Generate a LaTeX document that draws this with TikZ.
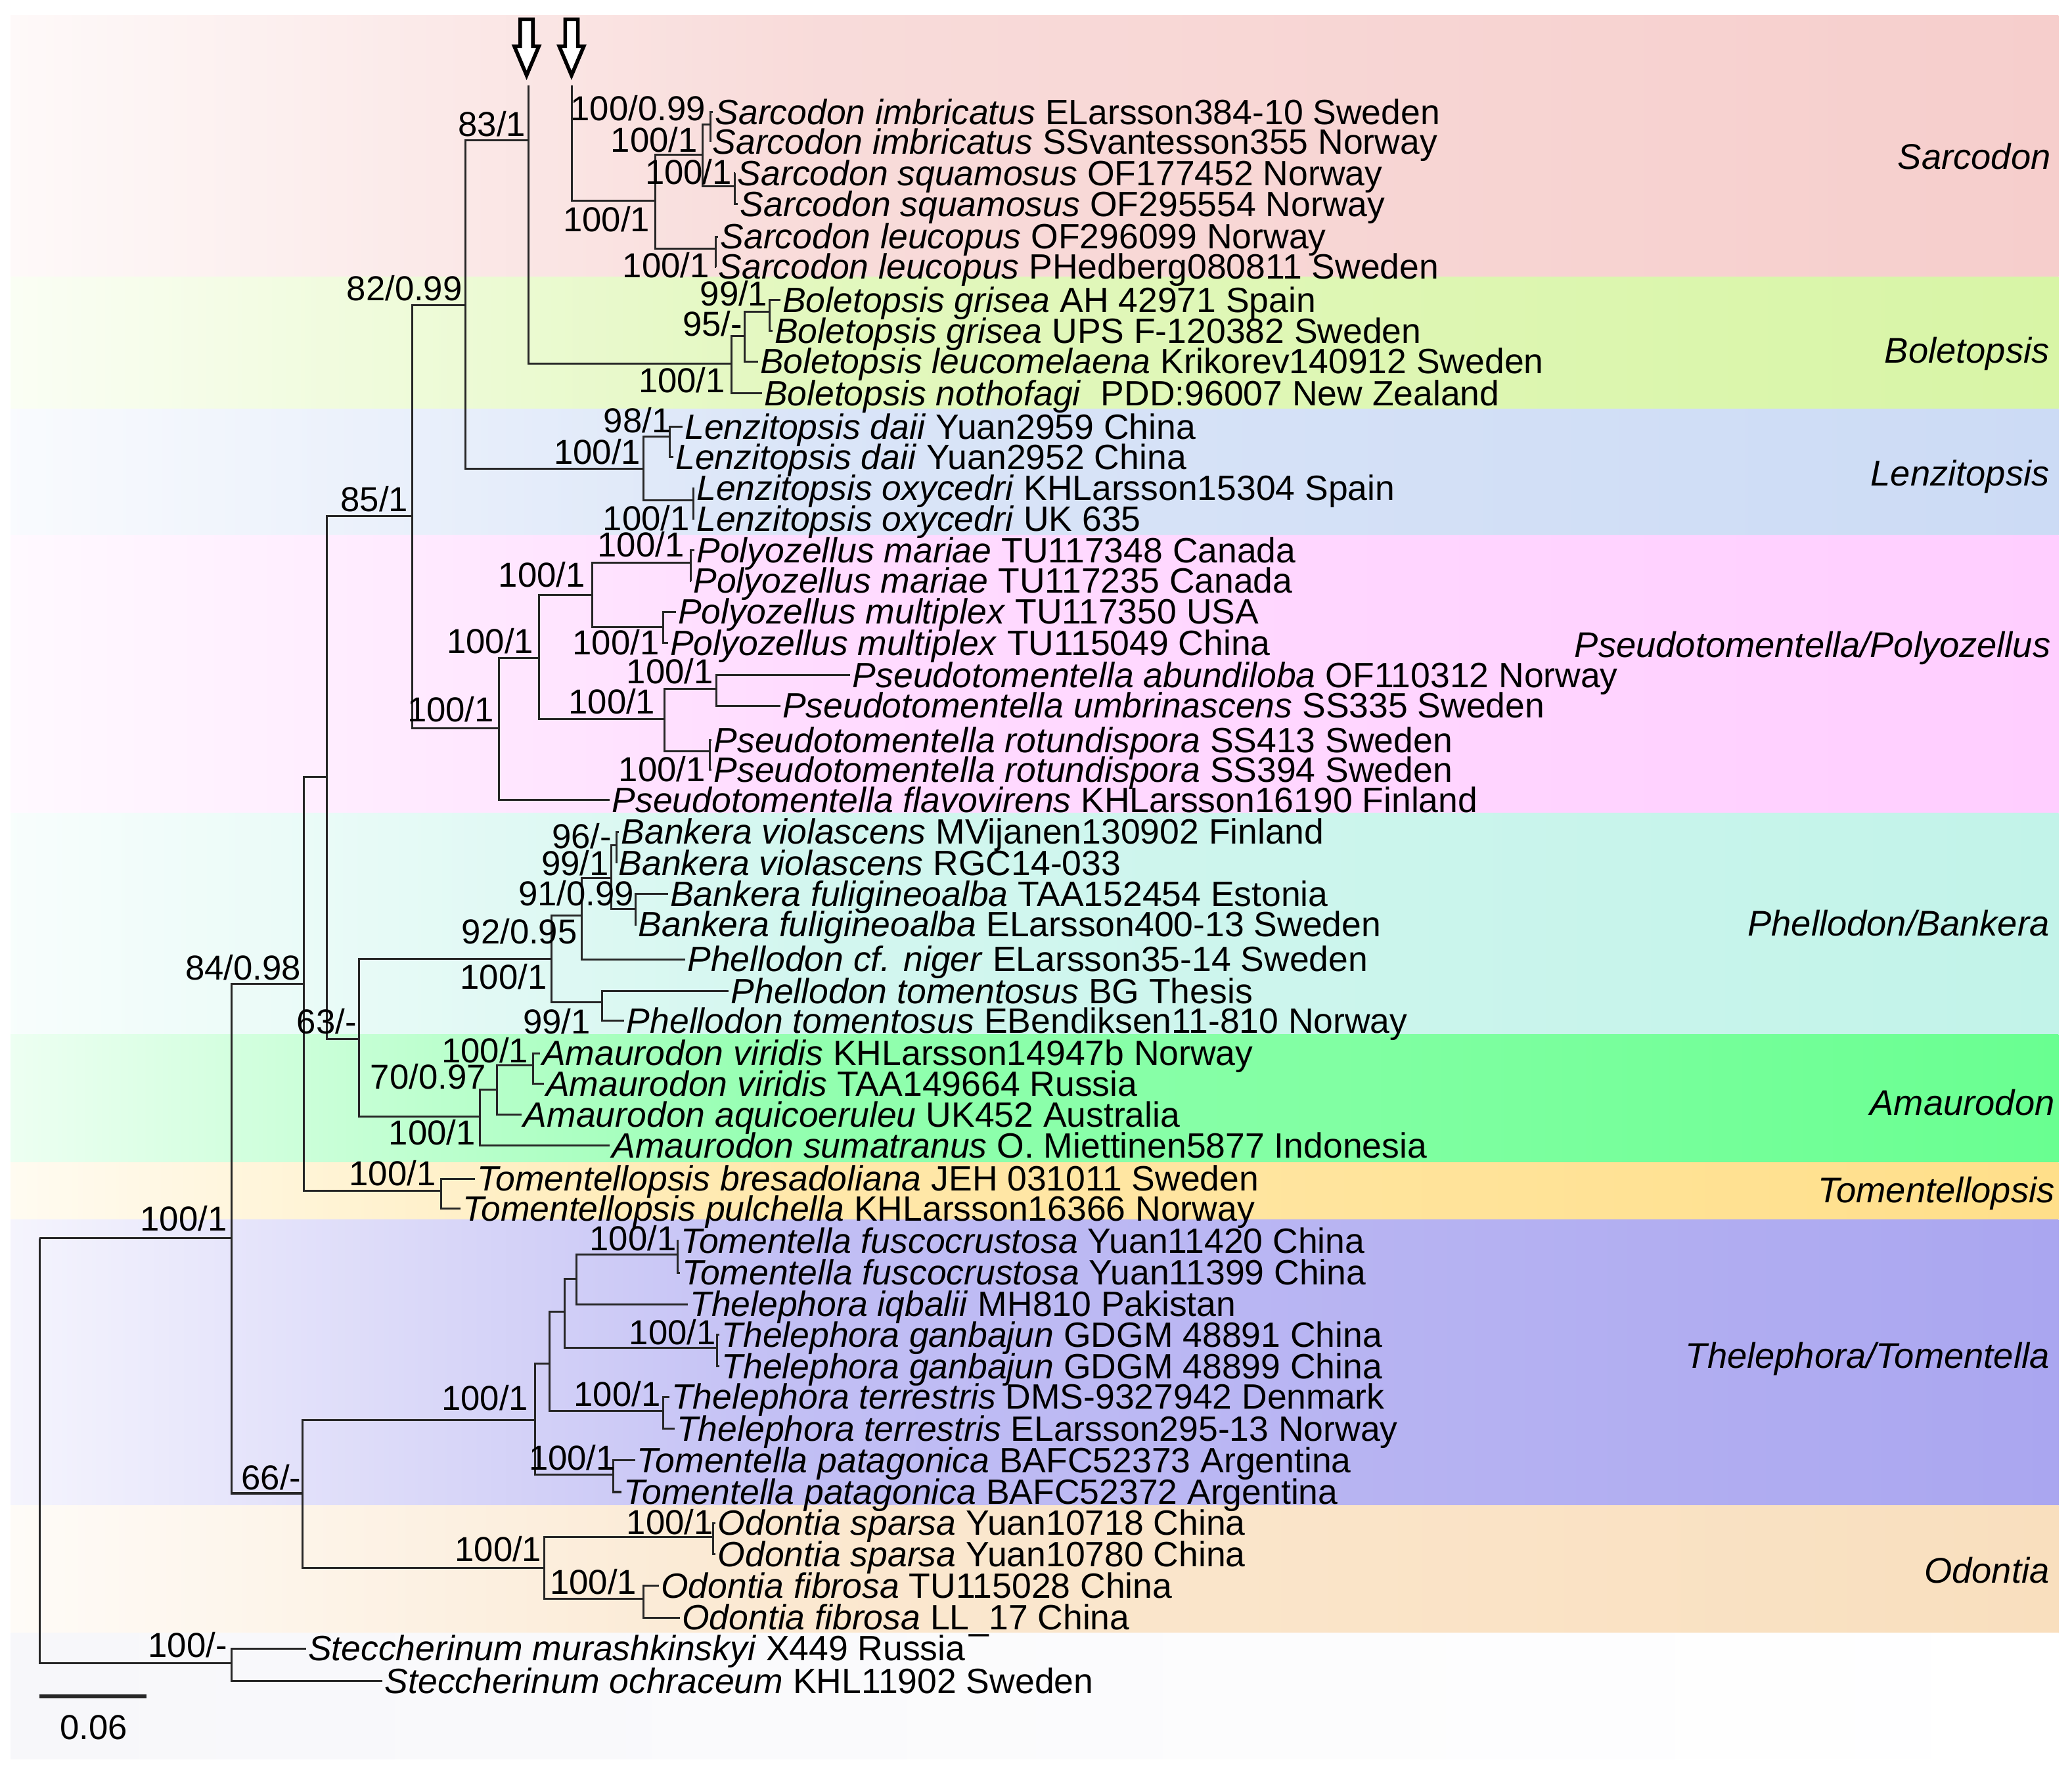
\documentclass[tikz,border=0pt]{standalone}
\usepackage{fontspec}
\setmainfont{Liberation Sans}
\usetikzlibrary{calc}
\definecolor{bgC}{RGB}{247,247,250}
\definecolor{sarcC}{RGB}{246,206,204}
\definecolor{bolC}{RGB}{216,245,166}
\definecolor{lenC}{RGB}{204,219,245}
\definecolor{pseC}{RGB}{255,206,255}
\definecolor{pheC}{RGB}{194,243,233}
\definecolor{amaC}{RGB}{105,255,145}
\definecolor{tomC}{RGB}{255,223,138}
\definecolor{theC}{RGB}{170,166,240}
\definecolor{odoC}{RGB}{249,223,190}
\newcommand{\cladeband}[3]{%
 \shade[left color=#1!12!white, right color=#1!72!white] (8,#2) rectangle (600,#3);
 \shade[left color=#1!72!white, right color=#1] (600,#2) rectangle (1557.7,#3);}
\newcommand{\mkleaf}[5]{\node[leaf] (#1) at ({#2-1.5},#3) {\textit{#4} #5};}
\newcommand{\brn}[2]{\draw[br] (#1) |- (#2);}
\newcommand{\sv}[4]{\node[sup] (#1) at (#2,#3) {#4};}
\begin{document}
\begin{tikzpicture}[x=1pt,y=-1pt,
  br/.style={line width=1.5pt, draw=black!85},
  leaf/.style={anchor=west, inner xsep=1.5pt, inner ysep=0pt, text height=18.5pt, text depth=0pt, font=\fontsize{26.6}{28}\selectfont},
  sup/.style={anchor=east, inner sep=0pt, text height=18.5pt, text depth=0pt, font=\fontsize{26.2}{28}\selectfont},
  clade/.style={anchor=east, inner sep=0pt, text height=19pt, text depth=0pt, font=\fontsize{27}{29}\selectfont\itshape},
  arrowshape/.style={line width=2.8pt, draw=black, fill=white, line join=miter}
]
\useasboundingbox (0,0) rectangle (1568,1336);
% background and bands
\fill[bgC] (8,11.6) rectangle (1557.7,1331);
\cladeband{sarcC}{11.6}{209.7}
\cladeband{bolC}{209.7}{309.6}
\cladeband{lenC}{309.6}{405}
\cladeband{pseC}{405}{615.4}
\cladeband{pheC}{615.4}{782.9}
\cladeband{amaC}{782.9}{879.6}
\cladeband{tomC}{879.6}{923}
\cladeband{theC}{923}{1139}
\cladeband{odoC}{1139}{1235.7}
\shade[left color=bgC, right color=white] (8,1235.7) rectangle (1557.7,1331);

% clade labels
\node[clade] (cSar) at (1552,118.5) {Sarcodon};
\node[clade] (cBol) at (1551,265) {Boletopsis};
\node[clade] (cLen) at (1551,358) {Lenzitopsis};
\node[clade] (cPse) at (1552,488) {Pseudotomentella/Polyozellus};
\node[clade] (cPhe) at (1551,698.5) {Phellodon/Bankera};
\node[clade] (cAma) at (1555,834.5) {Amaurodon};
\node[clade] (cTom) at (1555,900.5) {Tomentellopsis};
\node[clade] (cThe) at (1551,1026) {Thelephora/Tomentella};
\node[clade] (cOdo) at (1551,1188.5) {Odontia};

% internal nodes
\coordinate (R) at (30,937);
\coordinate (B) at (175.3,937);
\coordinate (C) at (229.8,744.5);
\coordinate (D) at (228.8,1130);
\coordinate (E) at (247.5,588);
\coordinate (Tp) at (334,901.3);
\coordinate (F) at (312,390.5);
\coordinate (G) at (271.8,786);
\coordinate (H) at (352,231);
\coordinate (I) at (377.6,551);
\coordinate (J) at (400,106);
\coordinate (Jt) at (400,64.7);
\coordinate (Lz) at (487,354.6);
\coordinate (Sc) at (433,152);
\coordinate (Sct) at (433,64.7);
\coordinate (S1) at (496,152);
\coordinate (S2) at (531.6,117);
\coordinate (S3) at (537.5,94);
\coordinate (S4) at (556,141);
\coordinate (S5) at (541.5,188);
\coordinate (Bo) at (553.5,275);
\coordinate (Bo2) at (563.5,254.4);
\coordinate (Bo3) at (582.4,236);
\coordinate (Lz2) at (507,330.3);
\coordinate (Lz3) at (524.7,378.7);
\coordinate (K) at (407.7,498);
\coordinate (Ly) at (448.3,450.4);
\coordinate (Pm) at (522.7,425.9);
\coordinate (Px) at (501.8,474.3);
\coordinate (M) at (503,544);
\coordinate (Pa) at (542.2,521.2);
\coordinate (Pr) at (537.4,568.4);
\coordinate (Ph) at (417.2,725.8);
\coordinate (P91) at (440.3,692.7);
\coordinate (P99) at (462.8,664.5);
\coordinate (P96) at (466.5,639.6);
\coordinate (Bf) at (481,687.7);
\coordinate (Pt) at (455.4,758.6);
\coordinate (Am) at (363,845);
\coordinate (Am2) at (376,824.4);
\coordinate (Av) at (403.4,806);
\coordinate (T1) at (405,1074.6);
\coordinate (T2) at (416,1031.6);
\coordinate (T3) at (427.2,992.6);
\coordinate (T4) at (436,967.8);
\coordinate (Tfu) at (513,949.5);
\coordinate (Tga) at (542.4,1020);
\coordinate (Tte) at (502,1067.7);
\coordinate (Tpa) at (464.3,1115.7);
\coordinate (O1) at (412,1186.5);
\coordinate (Os) at (539.8,1163.3);
\coordinate (Of) at (487,1209.7);
\coordinate (St) at (175.3,1258.6);

% leaves
\mkleaf{L1}{541}{85}{Sarcodon imbricatus}{ELarsson384-10 Sweden}
\mkleaf{L2}{539}{107.5}{Sarcodon imbricatus}{SSvantesson355 Norway}
\mkleaf{L3}{558}{131}{Sarcodon squamosus}{OF177452 Norway}
\mkleaf{L4}{560}{154.5}{Sarcodon squamosus}{OF295554 Norway}
\mkleaf{L5}{545}{179}{Sarcodon leucopus}{OF296099 Norway}
\mkleaf{L6}{543.5}{202}{Sarcodon leucopus}{PHedberg080811 Sweden}
\mkleaf{L7}{592}{227}{Boletopsis grisea}{AH 42971 Spain}
\mkleaf{L8}{586}{250.5}{Boletopsis grisea}{UPS F-120382 Sweden}
\mkleaf{L9}{575}{273.5}{Boletopsis leucomelaena}{Krikorev140912 Sweden}
\mkleaf{L10}{578}{297.5}{Boletopsis nothofagi}{\ PDD:96007 New Zealand}
\mkleaf{L11}{518}{323}{Lenzitopsis daii}{Yuan2959 China}
\mkleaf{L12}{511}{346}{Lenzitopsis daii}{Yuan2952 China}
\mkleaf{L13}{527}{369.5}{Lenzitopsis oxycedri}{KHLarsson15304 Spain}
\mkleaf{L14}{527}{392.5}{Lenzitopsis oxycedri}{UK 635}
\mkleaf{L15}{527}{416.5}{Polyozellus mariae}{TU117348 Canada}
\mkleaf{L16}{524.5}{439.5}{Polyozellus mariae}{TU117235 Canada}
\mkleaf{L17}{513}{463}{Polyozellus multiplex}{TU117350 USA}
\mkleaf{L18}{507}{486.5}{Polyozellus multiplex}{TU115049 China}
\mkleaf{L19}{645}{511}{Pseudotomentella abundiloba}{OF110312 Norway}
\mkleaf{L20}{592}{534}{Pseudotomentella umbrinascens}{SS335 Sweden}
\mkleaf{L21}{540}{560}{Pseudotomentella rotundispora}{SS413 Sweden}
\mkleaf{L22}{540}{582.5}{Pseudotomentella rotundispora}{SS394 Sweden}
\mkleaf{L23}{463}{605.5}{Pseudotomentella flavovirens}{KHLarsson16190 Finland}
\mkleaf{L24}{470}{629.5}{Bankera violascens}{MVijanen130902 Finland}
\mkleaf{L25}{468}{653}{Bankera violascens}{RGC14-033}
\mkleaf{L26}{507}{676.5}{Bankera fuligineoalba}{TAA152454 Estonia}
\mkleaf{L27}{483}{699.5}{Bankera fuligineoalba}{ELarsson400-13 Sweden}
\mkleaf{L28}{520}{726}{Phellodon cf. niger}{ELarsson35-14 Sweden}
\mkleaf{L29}{553}{750}{Phellodon tomentosus}{BG Thesis}
\mkleaf{L30}{474}{772.5}{Phellodon tomentosus}{EBendiksen11-810 Norway}
\mkleaf{L31}{410}{797}{Amaurodon viridis}{KHLarsson14947b Norway}
\mkleaf{L32}{413}{820}{Amaurodon viridis}{TAA149664 Russia}
\mkleaf{L33}{396}{843.5}{Amaurodon aquicoeruleu}{UK452 Australia}
\mkleaf{L34}{463}{867}{Amaurodon sumatranus}{O. Miettinen5877 Indonesia}
\mkleaf{L35}{361}{892}{Tomentellopsis bresadoliana}{JEH 031011 Sweden}
\mkleaf{L36}{350}{914.5}{Tomentellopsis pulchella}{KHLarsson16366 Norway}
\mkleaf{L37}{515}{939}{Tomentella fuscocrustosa}{Yuan11420 China}
\mkleaf{L38}{516}{963}{Tomentella fuscocrustosa}{Yuan11399 China}
\mkleaf{L39}{522}{987}{Thelephora iqbalii}{MH810 Pakistan}
\mkleaf{L40}{546}{1010}{Thelephora ganbajun}{GDGM 48891 China}
\mkleaf{L41}{546}{1034}{Thelephora ganbajun}{GDGM 48899 China}
\mkleaf{L42}{508}{1057}{Thelephora terrestris}{DMS-9327942 Denmark}
\mkleaf{L43}{512}{1081}{Thelephora terrestris}{ELarsson295-13 Norway}
\mkleaf{L44}{482}{1105}{Tomentella patagonica}{BAFC52373 Argentina}
\mkleaf{L45}{472}{1129}{Tomentella patagonica}{BAFC52372 Argentina}
\mkleaf{L46}{543}{1152.5}{Odontia sparsa}{Yuan10718 China}
\mkleaf{L47}{543}{1176}{Odontia sparsa}{Yuan10780 China}
\mkleaf{L48}{500}{1200}{Odontia fibrosa}{TU115028 China}
\mkleaf{L49}{516}{1224}{Odontia fibrosa}{LL\_17 China}
\mkleaf{L50}{233}{1247.5}{Steccherinum murashkinskyi}{X449 Russia}
\mkleaf{L51}{291}{1272}{Steccherinum ochraceum}{KHL11902 Sweden}

% branches
\brn{R}{B} \brn{R}{St}
\brn{B}{C} \brn{B}{D}
\brn{C}{E} \brn{C}{Tp}
\brn{E}{F} \brn{E}{G}
\brn{F}{H} \brn{F}{I}
\brn{H}{J} \brn{H}{Lz}
\draw[br] (J) -- (Jt);
\brn{J}{Bo}
\draw[br] (Sct) -- (Sc) -- (S1);
\brn{S1}{S2} \brn{S1}{S5}
\brn{S2}{S3} \brn{S2}{S4}
\brn{S3}{L1.west} \brn{S3}{L2.west}
\brn{S4}{L3.west} \brn{S4}{L4.west}
\brn{S5}{L5.west} \brn{S5}{L6.west}
\brn{Bo}{Bo2} \brn{Bo}{L10.west}
\brn{Bo2}{Bo3} \brn{Bo2}{L9.west}
\brn{Bo3}{L7.west} \brn{Bo3}{L8.west}
\brn{Lz}{Lz2} \brn{Lz}{Lz3}
\brn{Lz2}{L11.west} \brn{Lz2}{L12.west}
\brn{Lz3}{L13.west} \brn{Lz3}{L14.west}
\brn{I}{K} \brn{I}{L23.west}
\brn{K}{Ly} \brn{K}{M}
\brn{Ly}{Pm} \brn{Ly}{Px}
\brn{Pm}{L15.west} \brn{Pm}{L16.west}
\brn{Px}{L17.west} \brn{Px}{L18.west}
\brn{M}{Pa} \brn{M}{Pr}
\brn{Pa}{L19.west} \brn{Pa}{L20.west}
\brn{Pr}{L21.west} \brn{Pr}{L22.west}
\brn{Tp}{L35.west} \brn{Tp}{L36.west}
\brn{G}{Ph} \brn{G}{Am}
\brn{Ph}{P91} \brn{Ph}{Pt}
\brn{P91}{P99} \brn{P91}{L28.west}
\brn{P99}{P96} \brn{P99}{Bf}
\brn{P96}{L24.west} \brn{P96}{L25.west}
\brn{Bf}{L26.west} \brn{Bf}{L27.west}
\brn{Pt}{L29.west} \brn{Pt}{L30.west}
\brn{Am}{Am2} \brn{Am}{L34.west}
\brn{Am2}{Av} \brn{Am2}{L33.west}
\brn{Av}{L31.west} \brn{Av}{L32.west}
\brn{D}{T1} \brn{D}{O1}
\brn{T1}{T2} \brn{T1}{Tpa}
\brn{T2}{T3} \brn{T2}{Tte}
\brn{T3}{T4} \brn{T3}{Tga}
\brn{T4}{Tfu} \brn{T4}{L39.west}
\brn{Tfu}{L37.west} \brn{Tfu}{L38.west}
\brn{Tga}{L40.west} \brn{Tga}{L41.west}
\brn{Tte}{L42.west} \brn{Tte}{L43.west}
\brn{Tpa}{L44.west} \brn{Tpa}{L45.west}
\brn{O1}{Os} \brn{O1}{Of}
\brn{Os}{L46.west} \brn{Os}{L47.west}
\brn{Of}{L48.west} \brn{Of}{L49.west}
\brn{St}{L50.west} \brn{St}{L51.west}

% support values
\sv{v1}{534}{82}{100/0.99}
\sv{v2}{528}{106}{100/1}
\sv{v3}{554}{130}{100/1}
\sv{v4}{492}{166}{100/1}
\sv{v5}{537}{201}{100/1}
\sv{v6}{398}{94}{83/1}
\sv{v7}{350}{218}{82/0.99}
\sv{v8}{309}{378}{85/1}
\sv{v9}{581}{222}{99/1}
\sv{v10}{562}{245}{95/-}
\sv{v11}{549}{288}{100/1}
\sv{v12}{508}{318}{98/1}
\sv{v13}{485}{342}{100/1}
\sv{v14}{522}{392}{100/1}
\sv{v15}{518}{412}{100/1}
\sv{v16}{443}{435}{100/1}
\sv{v17}{404}{485}{100/1}
\sv{v18}{499}{486}{100/1}
\sv{v19}{540}{508}{100/1}
\sv{v20}{496}{531}{100/1}
\sv{v21}{374}{537}{100/1}
\sv{v22}{534}{582}{100/1}
\sv{v23}{463}{633}{96/-}
\sv{v24}{461}{653}{99/1}
\sv{v25}{480}{676}{91/0.99}
\sv{v26}{437}{705}{92/0.95}
\sv{v27}{414}{739}{100/1}
\sv{v28}{228}{732}{84/0.98}
\sv{v29}{270}{773}{63/-}
\sv{v30}{447}{773}{99/1}
\sv{v31}{400}{795}{100/1}
\sv{v32}{368}{815}{70/0.97}
\sv{v33}{360}{857}{100/1}
\sv{v34}{330}{888}{100/1}
\sv{v35}{172}{922}{100/1}
\sv{v36}{512}{937}{100/1}
\sv{v37}{542}{1008}{100/1}
\sv{v38}{400}{1058}{100/1}
\sv{v39}{500}{1055}{100/1}
\sv{v40}{466}{1103}{100/1}
\sv{v41}{228}{1118}{66/-}
\sv{v42}{540}{1152}{100/1}
\sv{v43}{410}{1172}{100/1}
\sv{v44}{482}{1197}{100/1}
\sv{v45}{172}{1245}{100/-}

% marker arrows
\draw[arrowshape] (393.7,14.6) -- (403.3,14.6) -- (403.3,35) -- (407.8,35) -- (398.5,57) -- (389.2,35) -- (393.7,35) -- cycle;
\draw[arrowshape] (427.7,14.6) -- (437.3,14.6) -- (437.3,35) -- (441.8,35) -- (432.5,57) -- (423.2,35) -- (427.7,35) -- cycle;

% scale bar
\coordinate (sb1) at (30,1283.5);
\coordinate (sb2) at (111,1283.5);
\draw[line width=3.2pt, black!85] (sb1) -- (sb2);
\node[sup, anchor=center] (sbl) at (71,1307) {0.06};
\end{tikzpicture}
\end{document}
